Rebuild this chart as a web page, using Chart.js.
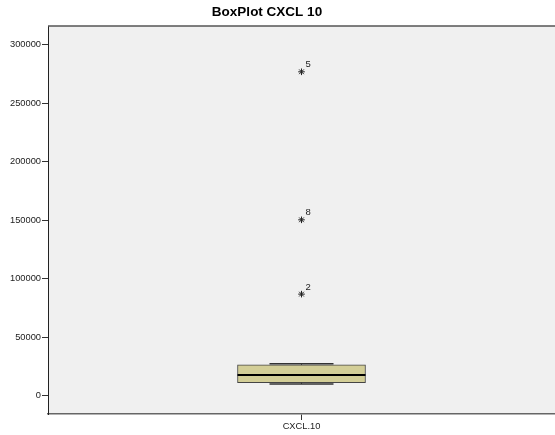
<!DOCTYPE html>
<html>
<head>
<meta charset="utf-8">
<script src="https://cdn.jsdelivr.net/npm/chart.js@4/dist/chart.umd.min.js"></script>
<style>
  html, body { margin: 0; padding: 0; background: #ffffff; }
  #wrap { width: 555px; height: 435px; }
</style>
</head>
<body>
<div id="wrap"><canvas id="c" width="555" height="435"></canvas></div>
<script>
// ---- data ----
const titleText = 'BoxPlot CXCL 10';
const categories = ['CXCL.10'];
const whiskerLow = [9800];
const q1 = [11000];
const median = [17500];
const q3 = [26200];
const whiskerHigh = [27100];
const outlierValues = [277000, 150300, 86700];
const outlierLabels = ['5', '8', '2'];
const yTicks = [0, 50000, 100000, 150000, 200000, 250000, 300000];
const yMin = -15900;
const yMax = 316200;

const FONT = '"Liberation Sans", Arial, sans-serif';

const boxPlugin = {
  id: 'boxExtras',
  beforeDraw(chart) {
    const { ctx, chartArea: a } = chart;
    ctx.save();
    ctx.fillStyle = '#f0f0f0';
    ctx.fillRect(a.left, a.top, a.right - a.left, a.bottom - a.top);
    ctx.restore();
  },
  afterDatasetsDraw(chart) {
    const { ctx } = chart;
    const ys = chart.scales.y;
    const meta = chart.getDatasetMeta(0);
    ctx.save();
    meta.data.forEach((bar, i) => {
      const x = bar.x;
      const half = bar.width / 2;
      const wHalf = half / 2;
      const pMed = ys.getPixelForValue(median[i]);
      const pLo = ys.getPixelForValue(whiskerLow[i]);
      const pHi = ys.getPixelForValue(whiskerHigh[i]);
      const pQ1 = ys.getPixelForValue(q1[i]);
      const pQ3 = ys.getPixelForValue(q3[i]);
      ctx.strokeStyle = '#333';
      ctx.lineWidth = 1;
      ctx.beginPath();
      ctx.moveTo(x, pQ3); ctx.lineTo(x, pHi);
      ctx.moveTo(x, pQ1); ctx.lineTo(x, pLo);
      ctx.stroke();
      ctx.strokeStyle = '#333';
      ctx.lineWidth = 1.5;
      ctx.beginPath();
      ctx.moveTo(x - wHalf, pHi); ctx.lineTo(x + wHalf, pHi);
      ctx.moveTo(x - wHalf, pLo); ctx.lineTo(x + wHalf, pLo);
      ctx.stroke();
      ctx.strokeStyle = '#000';
      ctx.lineWidth = 2;
      ctx.beginPath();
      ctx.moveTo(x - half, pMed); ctx.lineTo(x + half, pMed);
      ctx.stroke();
    });
    ctx.fillStyle = '#222';
    ctx.font = '9.5px ' + FONT;
    ctx.textAlign = 'left';
    ctx.textBaseline = 'middle';
    const ometa = chart.getDatasetMeta(1);
    ometa.data.forEach((pt, i) => {
      ctx.fillText(outlierLabels[i], pt.x + 4, pt.y - 7);
    });
    ctx.restore();
  },
  afterDraw(chart) {
    const { ctx, chartArea: a } = chart;
    ctx.save();
    ctx.strokeStyle = '#555';
    ctx.lineWidth = 1.5;
    ctx.beginPath();
    ctx.moveTo(a.left, a.top);
    ctx.lineTo(a.right, a.top);
    ctx.stroke();
    ctx.fillStyle = '#000';
    ctx.font = 'bold 13.5px ' + FONT;
    ctx.textAlign = 'center';
    ctx.textBaseline = 'middle';
    ctx.fillText(titleText, 267, 12);
    ctx.restore();
  }
};

new Chart(document.getElementById('c'), {
  type: 'bar',
  data: {
    labels: categories,
    datasets: [
      {
        type: 'bar',
        data: categories.map((c, i) => [q1[i], q3[i]]),
        backgroundColor: '#d3ce97',
        borderColor: '#444',
        borderWidth: 1,
        borderSkipped: false,
        barThickness: 128
      },
      {
        type: 'line',
        showLine: false,
        data: outlierValues.map(v => ({ x: categories[0], y: v })),
        pointStyle: 'star',
        pointRadius: 3.3,
        pointBorderColor: '#222',
        pointBorderWidth: 1,
        pointBackgroundColor: '#222'
      }
    ]
  },
  options: {
    responsive: false,
    animation: false,
    devicePixelRatio: 1,
    layout: { autoPadding: false, padding: { top: 26, right: 0, left: 0, bottom: 0 } },
    plugins: {
      legend: { display: false },
      tooltip: { enabled: false },
      title: { display: false }
    },
    scales: {
      x: {
        offset: true,
        grid: { display: true, offset: false, drawOnChartArea: false, drawTicks: true, tickLength: 6, color: '#333' },
        border: { display: true, color: '#666', width: 1.5 },
        ticks: { color: '#222', font: { family: FONT, size: 9.3 }, padding: 1 },
        afterFit(s) { s.height = 21; s.paddingLeft = 0; s.paddingRight = 0; }
      },
      y: {
        min: yMin,
        max: yMax,
        afterBuildTicks(s) { s.ticks = yTicks.map(v => ({ value: v })); },
        grid: { display: true, drawOnChartArea: false, drawTicks: true, tickLength: 6, color: '#333' },
        border: { display: true, color: '#222', width: 1 },
        ticks: {
          color: '#222',
          font: { family: FONT, size: 9.3 },
          padding: 1,
          callback: v => String(v)
        },
        afterFit(s) { s.width = 48; s.paddingTop = 0; s.paddingBottom = 0; }
      }
    }
  },
  plugins: [boxPlugin]
});
</script>
</body>
</html>
